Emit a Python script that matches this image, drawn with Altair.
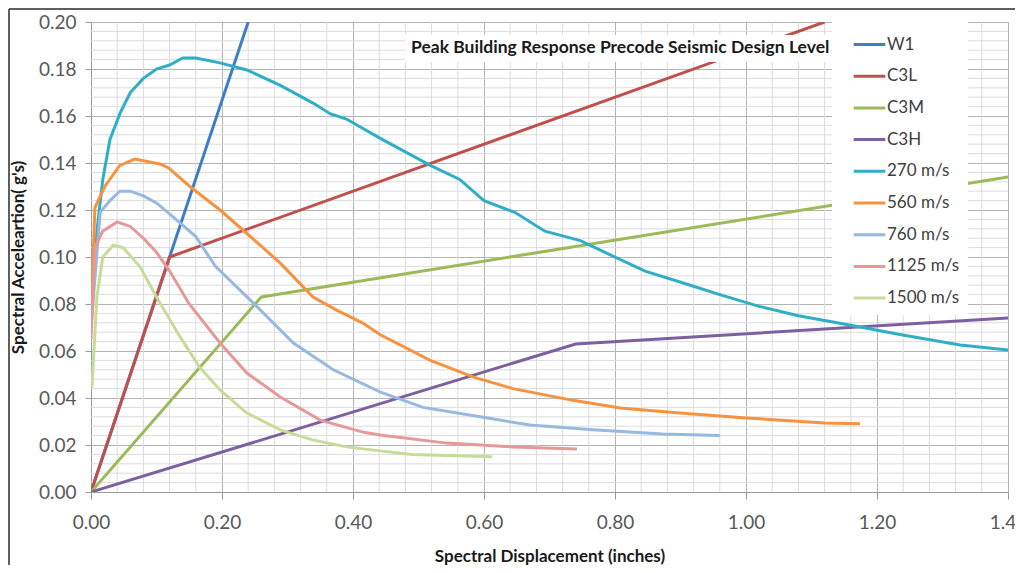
import altair as alt
import pandas as pd

series_names = ["W1", "C3L", "C3M", "C3H", "270 m/s", "560 m/s", "760 m/s", "1125 m/s", "1500 m/s"]
series_colors = ["#3F7EC4", "#C0504D", "#9BBB59", "#7D60A0", "#2FAEC5", "#F7923E", "#98B9DF", "#E39A98", "#C6DC98"]

w1_x = [0.0, 0.24]
w1_y = [0.0, 0.20]
c3l_x = [0.0, 0.12, 1.12]
c3l_y = [0.0, 0.10, 0.20]
c3m_x = [0.0, 0.26, 1.40]
c3m_y = [0.0, 0.083, 0.134]
c3h_x = [0.0, 0.74, 1.40]
c3h_y = [0.0, 0.063, 0.074]

v270_x = [0.0, 0.003, 0.011, 0.018, 0.029, 0.044, 0.06, 0.08, 0.10, 0.12, 0.14, 0.16, 0.197, 0.238,
          0.289, 0.339, 0.365, 0.39, 0.441, 0.518, 0.563, 0.60, 0.647, 0.693, 0.747, 0.792, 0.846,
          0.915, 0.96, 1.02, 1.08, 1.16, 1.235, 1.327, 1.40]
v270_y = [0.085, 0.094, 0.116, 0.133, 0.150, 0.161, 0.170, 0.176, 0.180, 0.1817, 0.1847, 0.1847, 0.1826,
          0.1796, 0.173, 0.1655, 0.161, 0.1587, 0.1506, 0.139, 0.133, 0.124, 0.119, 0.111, 0.107, 0.101,
          0.094, 0.088, 0.084, 0.079, 0.075, 0.071, 0.067, 0.0626, 0.0604]

v560_x = [0.0, 0.006, 0.021, 0.044, 0.067, 0.105, 0.118, 0.151, 0.197, 0.238, 0.289, 0.339, 0.375,
          0.415, 0.441, 0.518, 0.583, 0.644, 0.736, 0.808, 0.899, 1.0, 1.12, 1.174]
v560_y = [0.075, 0.121, 0.130, 0.139, 0.1417, 0.1396, 0.138, 0.130, 0.120, 0.110, 0.0974, 0.083, 0.0774,
          0.0719, 0.067, 0.056, 0.049, 0.044, 0.039, 0.0357, 0.0336, 0.0315, 0.0294, 0.029]

v760_x = [0.0, 0.014, 0.029, 0.044, 0.06, 0.08, 0.10, 0.136, 0.16, 0.19, 0.253, 0.309, 0.37, 0.441,
          0.507, 0.594, 0.67, 0.772, 0.873, 0.96]
v760_y = [0.07, 0.119, 0.124, 0.128, 0.128, 0.126, 0.123, 0.1145, 0.1087, 0.096, 0.079, 0.0634, 0.052,
          0.0426, 0.036, 0.032, 0.0285, 0.0264, 0.0247, 0.024]

v1125_x = [0.0, 0.006, 0.018, 0.04, 0.06, 0.08, 0.10, 0.12, 0.15, 0.197, 0.238, 0.289, 0.35, 0.415,
           0.441, 0.543, 0.644, 0.742]
v1125_y = [0.065, 0.104, 0.111, 0.1149, 0.113, 0.108, 0.102, 0.094, 0.080, 0.0634, 0.0506, 0.0404,
           0.0306, 0.0255, 0.0243, 0.0208, 0.0192, 0.0183]

v1500_x = [0.0015, 0.009, 0.018, 0.034, 0.049, 0.075, 0.10, 0.136, 0.166, 0.197, 0.238, 0.289, 0.339,
           0.39, 0.441, 0.49, 0.612]
v1500_y = [0.0447, 0.083, 0.100, 0.105, 0.104, 0.0958, 0.083, 0.066, 0.053, 0.0434, 0.0336, 0.0264,
           0.0221, 0.0192, 0.0175, 0.016, 0.015]

x_major = [0.0, 0.2, 0.4, 0.6, 0.8, 1.0, 1.2, 1.4]
y_major = [round(i * 0.02, 3) for i in range(11)]
x_minor = [round(i * 0.04, 3) for i in range(36) if i % 5 != 0]
y_minor = [round(i * 0.004, 4) for i in range(51) if i % 5 != 0]

title_text = "Peak Building Response Precode Seismic Design Level"
x_title = "Spectral Displacement (inches)"
y_title = "Spectral Acceleartion( g's)"

FONT = "Lato"

all_x = [w1_x, c3l_x, c3m_x, c3h_x, v270_x, v560_x, v760_x, v1125_x, v1500_x]
all_y = [w1_y, c3l_y, c3m_y, c3h_y, v270_y, v560_y, v760_y, v1125_y, v1500_y]
rows = []
for name, xs, ys in zip(series_names, all_x, all_y):
    for i, (xv, yv) in enumerate(zip(xs, ys)):
        rows.append({"series": name, "x": xv, "y": yv, "i": i})
df = pd.DataFrame(rows)

xscale = alt.Scale(domain=[0, 1.4], nice=False, zero=False)
yscale = alt.Scale(domain=[0, 0.2], nice=False, zero=False)

x_axis = alt.Axis(values=x_major, format=".2f", title=x_title, grid=True, labelFlush=False,
                  gridColor="#b4b4b4", gridWidth=1, tickColor="#9a9a9a", tickSize=7,
                  domainColor="#9a9a9a", labelFontSize=19, labelColor="#595959",
                  labelFont=FONT, labelPadding=14, titleFont=FONT, titleFontSize=17,
                  titleFontWeight="bold", titleColor="#1a1a1a", titleY=64,
                  titleBaseline="middle")
y_axis = alt.Axis(values=y_major, format=".2f", title=y_title, grid=True, labelFlush=False,
                  gridColor="#b4b4b4", gridWidth=1, tickColor="#9a9a9a", tickSize=6,
                  domainColor="#9a9a9a", labelFontSize=19, labelColor="#595959",
                  labelFont=FONT, labelPadding=9, titleFont=FONT, titleFontSize=17,
                  titleFontWeight="bold", titleColor="#1a1a1a", titleX=-73, titleY=235,
                  titleAngle=-90, titleAlign="center", titleBaseline="middle")

xminor_grid = alt.Chart(pd.DataFrame({"v": x_minor})).mark_rule(color="#dcdcdc", strokeWidth=1).encode(
    x=alt.X("v:Q", scale=xscale, axis=x_axis))
yminor_grid = alt.Chart(pd.DataFrame({"v": y_minor})).mark_rule(color="#dcdcdc", strokeWidth=1).encode(
    y=alt.Y("v:Q", scale=yscale, axis=y_axis))

lines = alt.Chart(df).mark_line(strokeWidth=3, clip=True).encode(
    x=alt.X("x:Q", scale=xscale, axis=x_axis),
    y=alt.Y("y:Q", scale=yscale, axis=y_axis),
    color=alt.Color("series:N", scale=alt.Scale(domain=series_names, range=series_colors),
                    legend=alt.Legend(title=None, orient="none", legendX=741, legendY=-3,
                                      fillColor="white", padding=8, symbolOffset=12,
                                      symbolType="stroke", symbolSize=1000, symbolStrokeWidth=3,
                                      labelFont=FONT, labelFontSize=17, labelColor="#404040",
                                      labelOffset=0, rowPadding=5.7, labelLimit=200)),
    order=alt.Order("i:Q"),
    detail="series:N",
)

title_bg = alt.Chart(pd.DataFrame({"t": [title_text]})).mark_rect(fill="white").encode(
    x=alt.value(314), x2=alt.value(745), y=alt.value(13), y2=alt.value(40))
title_mark = alt.Chart(pd.DataFrame({"t": [title_text]})).mark_text(
    font=FONT, fontSize=17.5, fontWeight="bold", color="#1a1a1a", align="left", baseline="middle"
).encode(text="t:N", x=alt.value(320), y=alt.value(26))

frame_left = alt.Chart(pd.DataFrame({"a": [0]})).mark_rule(color="#2a2a2a", strokeWidth=1.5).encode(
    x=alt.value(-82), y=alt.value(-13), y2=alt.value(560))
frame_top = alt.Chart(pd.DataFrame({"a": [0]})).mark_rule(color="#2a2a2a", strokeWidth=1.5).encode(
    x=alt.value(-82), x2=alt.value(1000), y=alt.value(-13))

chart = alt.layer(xminor_grid, yminor_grid, lines, title_bg, title_mark, frame_left, frame_top).properties(
    width=917, height=470,
    autosize=alt.AutoSizeParams(type="none"),
    padding={"left": 83, "top": 14, "right": 7, "bottom": 73},
).configure_view(stroke=None).configure(background="white")

chart.save("out.html", embed_options={"renderer": "svg", "actions": False})
